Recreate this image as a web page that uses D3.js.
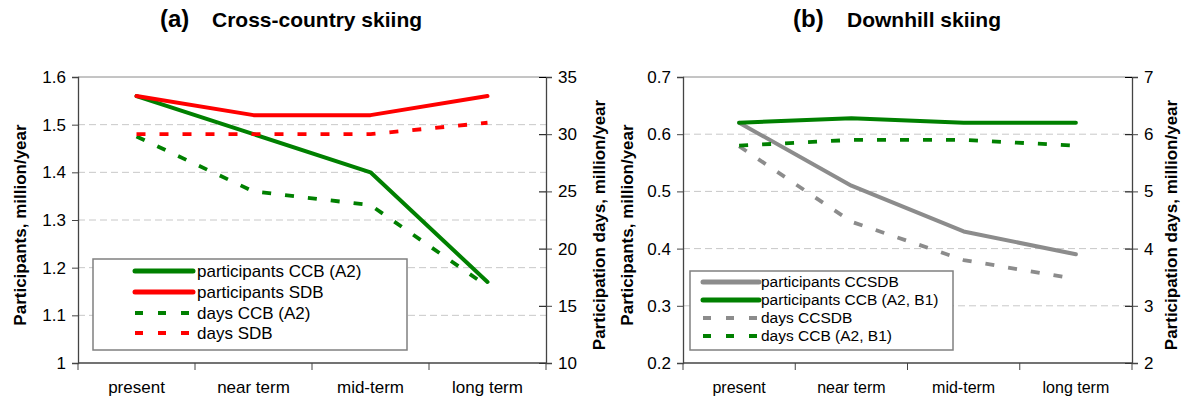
<!DOCTYPE html>
<html>
<head>
<meta charset="utf-8">
<script src="https://cdn.jsdelivr.net/npm/d3@7"></script>
<style>
  body { margin: 0; background: #fff; }
  svg text { font-family: "Liberation Sans", Arial, sans-serif; fill: #000; }
</style>
</head>
<body>
<svg id="chart" width="1187" height="403"></svg>
<script>
var categories = ["present", "near term", "mid-term", "long term"];

// (a) cross-country skiing
var ccParticipantsCCB = [1.56, 1.48, 1.40, 1.17];
var ccParticipantsSDB = [1.56, 1.52, 1.52, 1.56];
var ccDaysCCB = [29.8, 25.0, 23.8, 16.7];
var ccDaysSDB = [30, 30, 30, 31];
var ccLeftTicks = [1, 1.1, 1.2, 1.3, 1.4, 1.5, 1.6];
var ccRightTicks = [10, 15, 20, 25, 30, 35];

// (b) downhill skiing
var dhParticipantsCCSDB = [0.62, 0.51, 0.43, 0.39];
var dhParticipantsCCB = [0.62, 0.628, 0.62, 0.62];
var dhDaysCCSDB = [5.79, 4.47, 3.8, 3.47];
var dhDaysCCB = [5.8, 5.9, 5.9, 5.8];
var dhLeftTicks = [0.2, 0.3, 0.4, 0.5, 0.6, 0.7];
var dhRightTicks = [2, 3, 4, 5, 6, 7];

var GREEN = "#008000", RED = "#ff0000", GREY = "#8c8c8c";

function draw_panel(svg, p) {
    var x = d3.scaleBand().domain(categories).range([p.left, p.right]).padding(0),
        yL = d3.scaleLinear().domain(d3.extent(p.leftTicks)).range([p.bottom, p.top]),
        yR = d3.scaleLinear().domain(d3.extent(p.rightTicks)).range([p.bottom, p.top]);

    var g = svg.append("g");

    // dashed gridlines
    g.append("g").selectAll("line")
        .data(p.leftTicks.slice(1, -1))
        .enter().append("line")
        .attr("x1", p.left).attr("x2", p.right)
        .attr("y1", function (d) { return yL(d); })
        .attr("y2", function (d) { return yL(d); })
        .attr("stroke", "#c8c8c8")
        .attr("stroke-dasharray", "7,4");

    // top border
    g.append("line")
        .attr("x1", p.left).attr("x2", p.right)
        .attr("y1", p.top).attr("y2", p.top)
        .attr("stroke", "#8a8a8a");

    var left = g.append("g")
        .attr("transform", "translate(" + p.left + ",0)")
        .call(d3.axisLeft(yL).tickValues(p.leftTicks).tickSize(6).tickPadding(6)
            .tickFormat(function (d) { return String(d); }));
    var right = g.append("g")
        .attr("transform", "translate(" + p.right + ",0)")
        .call(d3.axisRight(yR).tickValues(p.rightTicks).tickSize(6).tickPadding(6)
            .tickFormat(function (d) { return String(d); }));
    g.append("g")
        .attr("transform", "translate(" + p.right + ",0)")
        .call(d3.axisLeft(yR).tickValues(p.rightTicks).tickSize(7).tickFormat(""))
        .select(".domain").remove();

    var bottom = g.append("g")
        .attr("transform", "translate(0," + p.bottom + ")")
        .call(d3.axisBottom(x).tickSize(0).tickPadding(22));
    bottom.select(".domain").remove();
    g.append("line")
        .attr("x1", p.left).attr("x2", p.right)
        .attr("y1", p.bottom).attr("y2", p.bottom)
        .attr("stroke", "#444").attr("stroke-width", 1.3);
    g.append("g").selectAll("line")
        .data(categories.map(function (c) { return x(c); }).concat([x.range()[1]]))
        .enter().append("line")
        .attr("x1", function (d) { return d; }).attr("x2", function (d) { return d; })
        .attr("y1", p.bottom).attr("y2", p.bottom + 7)
        .attr("stroke", "#444");

    [left, right].forEach(function (a) {
        a.select(".domain").attr("stroke", "#444").attr("stroke-width", 1.3);
        a.selectAll(".tick line").attr("stroke", "#444");
        a.selectAll("text").attr("font-size", "17px").attr("fill", "#000");
    });
    bottom.selectAll("text").attr("font-size", p.catFont).attr("fill", "#000")
        .attr("dy", "0");
    bottom.selectAll(".tick text").attr("y", 393 - p.bottom);

    // series
    p.series.forEach(function (s) {
        var ys = s.axis === "right" ? yR : yL;
        var line = d3.line()
            .x(function (d, i) { return x(categories[i]) + x.bandwidth() / 2; })
            .y(function (d) { return ys(d); });
        g.append("path")
            .datum(s.values)
            .attr("d", line)
            .attr("fill", "none")
            .attr("stroke", s.color)
            .attr("stroke-width", s.dashed ? 3.8 : 4)
            .attr("stroke-linecap", s.dashed ? "butt" : "round")
            .attr("stroke-linejoin", "round")
            .attr("stroke-dasharray", s.dashed ? "9,14" : null);
    });

    // legend
    var lg = p.legend;
    g.append("rect")
        .attr("x", lg.x).attr("y", lg.y)
        .attr("width", lg.w).attr("height", lg.h)
        .attr("fill", "#fff")
        .attr("stroke", "#808080")
        .attr("stroke-width", 1.5);
    p.series.forEach(function (s, i) {
        var yy = lg.rows[i];
        g.append("line")
            .attr("x1", lg.sx1).attr("x2", lg.sx2)
            .attr("y1", yy).attr("y2", yy)
            .attr("stroke", s.color)
            .attr("stroke-width", s.dashed ? 3.8 : 5)
            .attr("stroke-linecap", s.dashed ? "butt" : "round")
            .attr("stroke-dasharray", s.dashed ? "8,15" : null);
        g.append("text")
            .attr("x", lg.tx).attr("y", yy)
            .attr("dy", "0.35em")
            .attr("font-size", lg.font)
            .text(s.name);
    });

    // axis titles
    g.append("text")
        .attr("transform", "translate(" + p.leftLabelX + ",225) rotate(-90)")
        .attr("dy", "0.35em")
        .attr("text-anchor", "middle")
        .attr("font-size", "17px")
        .attr("font-weight", "bold")
        .text("Participants, million/year");
    g.append("text")
        .attr("transform", "translate(" + p.rightLabelX + ",225) rotate(-90)")
        .attr("dy", "0.35em")
        .attr("text-anchor", "middle")
        .attr("font-size", "17px")
        .attr("font-weight", "bold")
        .text("Participation days, million/year");

    // panel title
    g.append("text")
        .attr("x", p.tagX).attr("y", 27)
        .attr("font-size", "24px")
        .attr("font-weight", "bold")
        .text(p.tag);
    g.append("text")
        .attr("x", p.titleX).attr("y", 27)
        .attr("font-size", "21px")
        .attr("font-weight", "bold")
        .text(p.title);
}

var svg = d3.select("#chart");

draw_panel(svg, {
    left: 78, right: 546, top: 77, bottom: 363,
    leftTicks: ccLeftTicks, rightTicks: ccRightTicks,
    catFont: "17px",
    leftLabelX: 20, rightLabelX: 599,
    tag: "(a)", tagX: 160, title: "Cross-country skiing", titleX: 212,
    series: [
        { name: "participants CCB (A2)", values: ccParticipantsCCB, axis: "left", color: GREEN, dashed: false },
        { name: "participants SDB", values: ccParticipantsSDB, axis: "left", color: RED, dashed: false },
        { name: "days CCB (A2)", values: ccDaysCCB, axis: "right", color: GREEN, dashed: true },
        { name: "days SDB", values: ccDaysSDB, axis: "right", color: RED, dashed: true }
    ],
    legend: { x: 93, y: 259, w: 314, h: 91, rows: [271, 292, 313, 333],
              sx1: 135, sx2: 193, tx: 197, font: "17px" }
});

draw_panel(svg, {
    left: 683, right: 1132, top: 77, bottom: 363,
    leftTicks: dhLeftTicks, rightTicks: dhRightTicks,
    catFont: "16px",
    leftLabelX: 627, rightLabelX: 1171,
    tag: "(b)", tagX: 793, title: "Downhill skiing", titleX: 847,
    series: [
        { name: "participants CCSDB", values: dhParticipantsCCSDB, axis: "left", color: GREY, dashed: false },
        { name: "participants CCB (A2, B1)", values: dhParticipantsCCB, axis: "left", color: GREEN, dashed: false },
        { name: "days CCSDB", values: dhDaysCCSDB, axis: "right", color: GREY, dashed: true },
        { name: "days CCB (A2, B1)", values: dhDaysCCB, axis: "right", color: GREEN, dashed: true }
    ],
    legend: { x: 690, y: 271, w: 263, h: 79, rows: [282, 300, 318, 336],
              sx1: 703, sx2: 759, tx: 761, font: "15.5px" }
});
</script>
</body>
</html>
